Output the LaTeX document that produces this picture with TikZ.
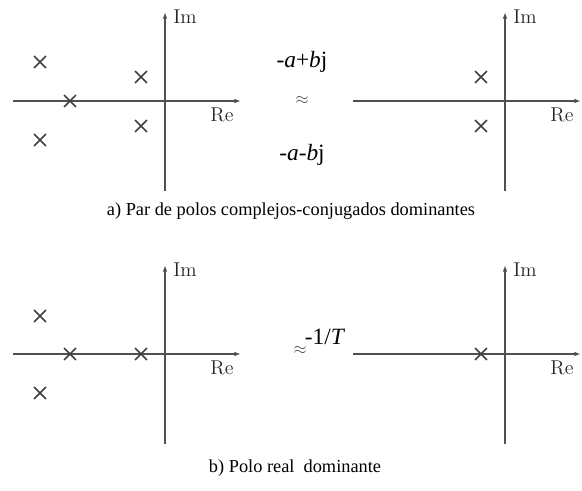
\documentclass[tikz,border=0pt]{standalone}
\usepackage{fontspec}
\newfontfamily\capfont{Liberation Serif}
\usetikzlibrary{arrows.meta,shapes.misc}

\definecolor{axisgray}{HTML}{505050}
\definecolor{polegray}{HTML}{404040}

\begin{document}
\begin{tikzpicture}[
    x=0.6pt, y=-0.6pt,
    >={Latex[length=4pt,width=2.8pt]},
    axis/.style={draw=axisgray, line width=0.9pt, ->},
    pole/.style={
      cross out,
      draw=polegray,
      line width=0.95pt,
      minimum size=6.2pt,
      inner sep=0pt
    },
    axlabel/.style={font=\fontsize{12}{14}\selectfont, text=black!85},
    formula/.style={font=\capfont\fontsize{14}{16}\selectfont},
    caption/.style={font=\capfont\fontsize{11}{13}\selectfont}
  ]

  \path[use as bounding box] (0,0) rectangle (582,491);

  % Origins of the four planes
  \def\xL{165}
  \def\xR{505}
  \def\yTop{101}
  \def\yBot{354}

  % =====================================================
  % AXES
  % =====================================================
  \foreach \ox/\oy/\n in {\xL/\yTop/A,\xR/\yTop/B,\xL/\yBot/C,\xR/\yBot/D}{
    \coordinate (re0\n) at (\ox-152,\oy);
    \coordinate (re1\n) at (\ox+76,\oy);
    \coordinate (im0\n) at (\ox,\oy+90);
    \coordinate (im1\n) at (\ox,\oy-89);
    \draw[axis] (re0\n) -- (re1\n);
    \draw[axis] (im0\n) -- (im1\n);
    \node[axlabel] (im\n) at (\ox+20,\oy-84) {Im};
    \node[axlabel] (re\n) at (\ox+57,\oy+14) {Re};
  }

  % =====================================================
  % POLES
  % =====================================================

  % a) left plane
  \foreach \px/\py [count=\i] in {-125/-39,-95/0,-24/-24,-24/25,-125/39}{
    \node[pole] (pa\i) at (\xL+\px,\yTop+\py) {};
  }
  % a) right plane
  \node[pole] (pb1) at (\xR-24,\yTop-24) {};
  \node[pole] (pb2) at (\xR-24,\yTop+25) {};

  % b) left plane
  \foreach \px/\py [count=\i] in {-125/-38,-95/0,-24/0,-125/39}{
    \node[pole] (pc\i) at (\xL+\px,\yBot+\py) {};
  }
  % b) right plane
  \node[pole] (pd1) at (\xR-24,\yBot) {};

  % =====================================================
  % APPROXIMATIONS
  % =====================================================
  \node[formula] (plus) at (302,62) {-\textit{a}+\textit{b}j};
  \node[text=black!70] (approxA) at (302,100) {$\approx$};
  \node[formula] (minus) at (302,155) {-\textit{a}-\textit{b}j};

  \node[text=black!70] (approxB) at (300,350) {$\approx$};
  \node[formula] (tau) at (325,337) {-1/\textit{T}};

  % =====================================================
  % CAPTIONS
  % =====================================================
  \node[caption] (capA) at (291,211) {a) Par de polos complejos-conjugados dominantes};
  \node[caption] (capB) at (295,468) {b) Polo real\ \ dominante};

\end{tikzpicture}
\end{document}
